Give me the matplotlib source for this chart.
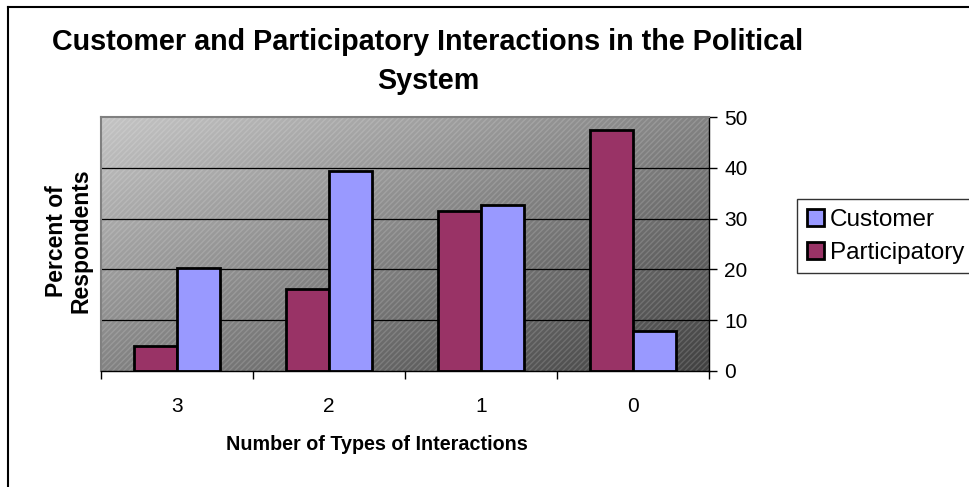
import numpy as np
import matplotlib
matplotlib.use('Agg')
import matplotlib.pyplot as plt
from matplotlib.patches import Rectangle, Patch
from matplotlib.lines import Line2D

plt.rcParams['font.family'] = ['Liberation Sans', 'DejaVu Sans']

# 数据
categories = ['3', '2', '1', '0']
participatory = [5, 16.2, 31.4, 47.5]
customer = [20.2, 39.3, 32.6, 7.9]
y_ticks = [0, 10, 20, 30, 40, 50]

col_part = '#993366'
col_cust = '#9999FF'

fig = plt.figure(figsize=(9.69, 4.87), dpi=100)
ax = fig.add_axes([101 / 969, 1 - 371 / 487, 608 / 969, 254 / 487])

# 渐变背景：左上亮，右下暗
yy, xx = np.mgrid[0:1:200j, 0:1:200j]
grad = 1 - (xx + yy) / 2
ax.imshow(grad, cmap='gray', vmin=-0.5, vmax=1.45, extent=[0, 1, 0, 1],
          transform=ax.transAxes, aspect='auto', zorder=0, origin='upper')
ax.add_patch(Rectangle((0, 0), 1, 1, transform=ax.transAxes, fill=False,
                       hatch='//////', edgecolor=(1, 1, 1, 0.15), lw=0, zorder=0.5))

x = np.arange(len(categories))
w = 0.286
for yv in y_ticks[1:-1]:
    ax.axhline(yv, color='black', lw=0.9, zorder=1)
ax.bar(x - w / 2, participatory, w, color=col_part, edgecolor='black', lw=2, zorder=2)
ax.bar(x + w / 2, customer, w, color=col_cust, edgecolor='black', lw=2, zorder=2)

ax.set_xlim(-0.5, len(categories) - 0.5)
ax.set_ylim(0, 50)

ax.yaxis.tick_right()
ax.set_yticks(y_ticks)
ax.set_xticks(x)
ax.set_xticklabels(categories)
ax.set_xticks(np.arange(-0.5, len(categories), 1), minor=True)
ax.tick_params(axis='x', which='major', length=0, labelsize=15, pad=19)
ax.tick_params(axis='x', which='minor', length=6, width=1, direction='out')
ax.tick_params(axis='y', length=6, width=1, direction='out', labelsize=15, pad=5)

for side in ['top', 'left']:
    ax.spines[side].set_color('#808080')
    ax.spines[side].set_linewidth(1.5)
for side in ['bottom', 'right']:
    ax.spines[side].set_color('black')
    ax.spines[side].set_linewidth(1)

# 标题和轴标签
fig.text(428 / 969, 1 - 42 / 487, 'Customer and Participatory Interactions in the Political',
         ha='center', va='center', fontsize=20.7, fontweight='bold')
fig.text(428 / 969, 1 - 81 / 487, 'System',
         ha='center', va='center', fontsize=20.7, fontweight='bold')
fig.text(69 / 969, 1 - 241 / 487, 'Percent of\nRespondents', rotation=90,
         ha='center', va='center', fontsize=16.5, fontweight='bold', linespacing=1.1)
fig.text(377 / 969, 1 - 445 / 487, 'Number of Types of Interactions',
         ha='center', va='center', fontsize=14.2, fontweight='bold')

# 图例
handles = [Patch(facecolor=col_cust, edgecolor='black', lw=2, label='Customer'),
           Patch(facecolor=col_part, edgecolor='black', lw=2, label='Participatory')]
leg = fig.legend(handles=handles, loc='upper left', bbox_to_anchor=(797 / 969, 1 - 199 / 487),
                 fontsize=17.5, frameon=True, fancybox=False, handlelength=0.7, handleheight=0.7,
                 handletextpad=0.25, borderpad=0.4, labelspacing=0.45, borderaxespad=0)
leg.get_frame().set_edgecolor('black')
leg.get_frame().set_linewidth(1)

# 外框
fig.add_artist(Line2D([8 / 969, 8 / 969], [0, 1 - 7 / 487], transform=fig.transFigure,
                      color='black', lw=1.5))
fig.add_artist(Line2D([8 / 969, 1], [1 - 7 / 487, 1 - 7 / 487], transform=fig.transFigure,
                      color='black', lw=1.5))

fig.savefig('out.png', dpi=100)
